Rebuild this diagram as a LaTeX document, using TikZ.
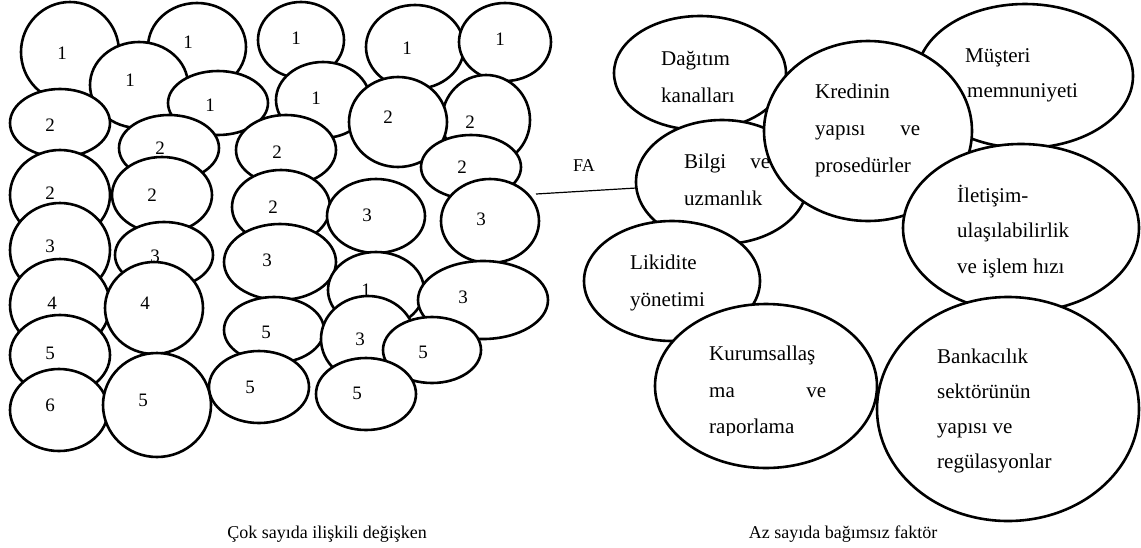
\documentclass[tikz,border=0pt]{standalone}
\usepackage{fontspec}
\setmainfont{Liberation Serif}
\usetikzlibrary{shapes.geometric}
\newcommand\bubL[8]{%
  \node[bub,minimum width={2*#4pt},minimum height={2*#5pt}] (#1) at (#2,#3) {};
  \node[dig] (#1t) at (#6,#7) {#8};}
\newcommand\bubR[5]{%
  \node[bub,minimum width={2*#4pt},minimum height={2*#5pt}] (#1) at (#2,#3) {};}
\begin{document}
\begin{tikzpicture}[x=1pt,y=-1pt,
  bub/.style={ellipse,draw=black,fill=white,line width=2.6pt,inner sep=0pt,outer sep=0pt},
  dig/.style={inner sep=0pt,font=\fontsize{19pt}{22pt}\selectfont},
  rt/.style={inner sep=0pt,anchor=base west,font=\fontsize{21pt}{25pt}\selectfont},
  capt/.style={inner sep=0pt,anchor=base,font=\fontsize{18pt}{22pt}\selectfont},
  conn/.style={line width=1.2pt}]
\useasboundingbox (0,0) rectangle (1141,547);
% ---------- left cluster ----------
\bubL{A}{70}{52}{49}{50}{62}{53}{1}
\bubL{B}{197}{47}{49}{44}{188}{42}{1}
\bubL{C}{139}{85}{49}{43}{130}{80}{1}
\bubL{E}{60}{123}{50}{34}{50}{125}{2}
\bubL{D}{218}{103}{50}{32}{210}{105}{1}
\bubL{F}{169}{148}{50}{33}{160}{148}{2}
\bubL{G}{162}{195}{50}{38}{152}{195}{2}
\bubL{H}{60}{195}{50}{45}{50}{193}{2}
\bubL{I}{60}{250}{50}{47}{50}{246}{3}
\bubL{M}{164}{255}{49}{33}{155}{256}{3}
\bubL{J}{60}{305}{50}{46}{52}{303}{4}
\bubL{N}{154}{308}{49}{46}{145}{303}{4}
\bubL{K}{60}{355}{50}{40}{50}{353}{5}
\bubL{L}{59}{410}{49}{41}{50}{405}{6}
\bubL{O}{157}{405}{54}{52}{143}{400}{5}
\bubL{P}{301}{40}{43}{38}{296}{38}{1}
\bubL{Q}{323}{100}{47}{38}{316}{98}{1}
\bubL{S}{415}{47}{49}{42}{407}{48}{1}
\bubL{T}{505}{42}{46}{39}{500}{39}{1}
\bubL{U}{486}{120}{44}{45}{470}{122}{2}
\bubL{R}{398}{122}{49}{45}{388}{117}{2}
\bubL{W}{286}{150}{50}{35}{277}{152}{2}
\bubL{X}{281}{207}{49}{37}{273}{207}{2}
\bubL{Y}{280}{262}{56}{38}{267}{260}{3}
\bubL{Z}{274}{330}{50}{33}{266}{332}{5}
\bubL{AA}{259}{387}{50}{36}{250}{387}{5}
\bubL{V}{471}{167}{50}{32}{462}{167}{2}
\bubL{AB}{376}{216}{49}{37}{367}{215}{3}
\bubL{AH}{490}{221}{49}{42}{481}{219}{3}
\bubL{AC}{376}{290}{48}{38}{366}{290}{1}
\bubL{AG}{483}{300}{65}{39}{463}{297}{3}
\bubL{AD}{368}{339}{47}{43}{360}{339}{3}
\bubL{AF}{432}{350}{49}{33}{423}{352}{5}
\bubL{AE}{366}{394}{50}{36}{357}{393}{5}
% ---------- right cluster ----------
\bubR{dag}{700}{73}{86}{57}
\node[rt] (dag1) at (661,65) {Dağıtım};
\node[rt] (dag2) at (661,102) {kanalları};
\bubR{mus}{1025}{76}{108}{72}
\node[rt] (mus1) at (965,62) {Müşteri};
\node[rt] (mus2) at (967,97) {memnuniyeti};
\bubR{bil}{722}{182}{86}{62}
\node[rt] (bil1) at (684,168) {\makebox[86pt][s]{Bilgi ve}};
\node[rt] (bil2) at (684,205) {uzmanlık};
\bubR{kre}{868}{131}{104}{90}
\node[rt] (kre1) at (815,98) {Kredinin};
\node[rt] (kre2) at (815,135) {\makebox[105pt][s]{yapısı ve}};
\node[rt] (kre3) at (815,172) {prosedürler};
\bubR{ile}{1021}{228}{118}{84}
\node[rt] (ile1) at (957,202) {İletişim-};
\node[rt] (ile2) at (957,237) {ulaşılabilirlik};
\node[rt] (ile3) at (957,273) {ve işlem hızı};
\bubR{lik}{672}{281}{88}{60}
\node[rt] (lik1) at (630,269) {Likidite};
\node[rt] (lik2) at (630,306) {yönetimi};
\bubR{kur}{766}{386}{111}{82}
\node[rt] (kur1) at (709,360) {Kurumsallaş};
\node[rt] (kur2) at (709,397) {\makebox[117pt][s]{ma ve}};
\begin{scope}
  \clip (700,410) rectangle (850,435);
  \node[rt] (kur3) at (709,433) {raporlama};
\end{scope}
\bubR{ban}{1008}{409}{131}{112}
\node[rt] (ban1) at (937,363) {Bankacılık};
\node[rt] (ban2) at (937,398) {sektörünün};
\node[rt] (ban3) at (937,433) {yapısı ve};
\node[rt] (ban4) at (937,468) {regülasyonlar};
% ---------- connector ----------
\coordinate (faL) at (536,194);
\draw[conn] (faL) -- (bil.184);
\node[capt,anchor=center] (fa) at (584,166) {FA};
% ---------- captions ----------
\node[capt] (capL) at (327,538) {Çok sayıda ilişkili değişken};
\node[capt] (capR) at (843,538) {Az sayıda bağımsız faktör};
\end{tikzpicture}
\end{document}
